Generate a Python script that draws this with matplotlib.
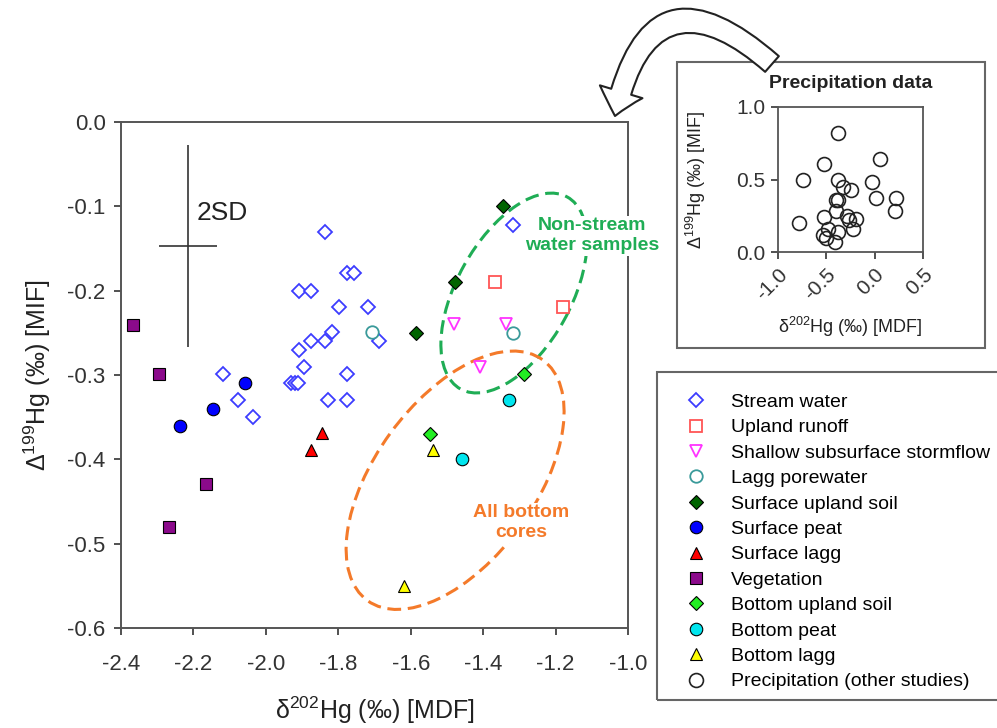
import matplotlib
matplotlib.use("Agg")
import matplotlib.pyplot as plt
from matplotlib.patches import Ellipse, Rectangle, FancyArrowPatch

plt.rcParams['font.family'] = ['Liberation Sans', 'DejaVu Sans']
plt.rcParams['mathtext.default'] = 'regular'

# ---- data ----
stream_x = [-1.318, -1.837, -1.776, -1.757, -1.909, -1.875, -1.798, -1.718, -1.817,
            -1.875, -1.837, -1.909, -1.688, -1.895, -2.118, -1.776, -1.93, -1.92,
            -1.91, -2.077, -2.036, -1.828, -1.776]
stream_y = [-0.122, -0.130, -0.179, -0.179, -0.200, -0.200, -0.219, -0.219, -0.249,
            -0.260, -0.260, -0.270, -0.260, -0.290, -0.299, -0.299, -0.31, -0.31,
            -0.31, -0.330, -0.350, -0.330, -0.330]
runoff_x = [-1.367, -1.18]
runoff_y = [-0.19, -0.219]
shallow_x = [-1.48, -1.337, -1.409]
shallow_y = [-0.24, -0.24, -0.29]
laggpw_x = [-1.318, -1.707]
laggpw_y = [-0.25, -0.249]
surf_soil_x = [-1.345, -1.478, -1.585]
surf_soil_y = [-0.10, -0.19, -0.25]
surf_peat_x = [-2.058, -2.146, -2.237]
surf_peat_y = [-0.31, -0.34, -0.36]
surf_lagg_x = [-1.845, -1.875]
surf_lagg_y = [-0.369, -0.389]
veg_x = [-2.367, -2.295, -2.165, -2.267]
veg_y = [-0.241, -0.299, -0.429, -0.480]
bot_soil_x = [-1.287, -1.547]
bot_soil_y = [-0.299, -0.370]
bot_peat_x = [-1.329, -1.458]
bot_peat_y = [-0.330, -0.400]
bot_lagg_x = [-1.538, -1.619]
bot_lagg_y = [-0.389, -0.55]

precip_x = [-0.38, -0.52, -0.74, -0.78, -0.38, -0.33, -0.24, -0.38, -0.40, -0.40,
            -0.52, -0.29, -0.27, -0.19, -0.22, -0.48, -0.38, -0.53, -0.50, -0.41,
            -0.03, 0.01, 0.06, 0.22, 0.21]
precip_y = [0.82, 0.61, 0.50, 0.20, 0.50, 0.45, 0.43, 0.36, 0.36, 0.28,
            0.24, 0.25, 0.22, 0.23, 0.16, 0.16, 0.14, 0.115, 0.10, 0.07,
            0.48, 0.37, 0.64, 0.37, 0.28]

sd_x, sd_y, sd_xerr, sd_yerr = -2.215, -0.147, 0.08, 0.12

W, H = 997, 728
fig = plt.figure(figsize=(W / 100, H / 100), dpi=100)

def fx(px):
    return px / W

def fy(py):
    return 1 - py / H

ax = fig.add_axes([fx(121), fy(628), 507 / W, 506 / H])

open_kw = dict(ls='none', mfc='white', mew=1.3)
fill_kw = dict(ls='none', mec='black', mew=0.8)
handles = []
handles += ax.plot(stream_x, stream_y, 'D', ms=7, mec='#3c3cff', label='Stream water', **open_kw)
handles += ax.plot(runoff_x, runoff_y, 's', ms=8, mec='#ff5555', label='Upland runoff', **open_kw)
handles += ax.plot(shallow_x, shallow_y, 'v', ms=9, mec='#ff33ff', label='Shallow subsurface stormflow', **open_kw)
handles += ax.plot(laggpw_x, laggpw_y, 'o', ms=9, mec='#3a9a9a', label='Lagg porewater', **open_kw)
handles += ax.plot(surf_soil_x, surf_soil_y, 'D', ms=7, mfc='#006400', label='Surface upland soil', **fill_kw)
handles += ax.plot(surf_peat_x, surf_peat_y, 'o', ms=9, mfc='#0000ff', label='Surface peat', **fill_kw)
handles += ax.plot(surf_lagg_x, surf_lagg_y, '^', ms=9, mfc='#ff0000', label='Surface lagg', **fill_kw)
handles += ax.plot(veg_x, veg_y, 's', ms=8, mfc='#8b0a8b', label='Vegetation', **fill_kw)
handles += ax.plot(bot_soil_x, bot_soil_y, 'D', ms=7, mfc='#22ee22', label='Bottom upland soil', **fill_kw)
handles += ax.plot(bot_peat_x, bot_peat_y, 'o', ms=9, mfc='#00e5ee', label='Bottom peat', **fill_kw)
handles += ax.plot(bot_lagg_x, bot_lagg_y, '^', ms=9, mfc='#ffff00', label='Bottom lagg', **fill_kw)

# 2SD cross
ax.errorbar(sd_x, sd_y, xerr=sd_xerr, yerr=sd_yerr, fmt='none', ecolor='#333333', elinewidth=1.2, capsize=0)
ax.text(sd_x + 0.025, -0.108, '2SD', fontsize=19, ha='left', va='center', color='#222222')

# dashed ellipses
ax.add_patch(Ellipse((0.775, 0.662), 0.434, 0.225, angle=61, transform=ax.transAxes,
                     fill=False, ec='#1fad55', lw=2.2, ls=(0, (4.5, 2.2)), clip_on=False, zorder=1))
ax.add_patch(Ellipse((0.659, 0.292), 0.588, 0.316, angle=54, transform=ax.transAxes,
                     fill=False, ec='#f47a2a', lw=2.2, ls=(0, (4.5, 2.2)), clip_on=False, zorder=1))
ax.text(0.929, 0.775, 'Non-stream\nwater samples', transform=ax.transAxes, ha='center', va='center',
        fontsize=14, fontweight='bold', color='#1fad55', linespacing=1.25, clip_on=False, zorder=5,
        bbox=dict(fc='white', ec='none', pad=1))
ax.text(0.789, 0.208, 'All bottom\ncores', transform=ax.transAxes, ha='center', va='center',
        fontsize=14, fontweight='bold', color='#f47a2a', linespacing=1.25, zorder=5,
        bbox=dict(fc='white', ec='none', pad=1))

ax.set_xlim(-2.4, -1.0)
ax.set_ylim(-0.6, 0.0)
ax.set_xticks([-2.4, -2.2, -2.0, -1.8, -1.6, -1.4, -1.2, -1.0])
ax.set_yticks([-0.6, -0.5, -0.4, -0.3, -0.2, -0.1, 0.0])
ax.set_xticklabels(['-2.4', '-2.2', '-2.0', '-1.8', '-1.6', '-1.4', '-1.2', '-1.0'])
ax.set_yticklabels(['-0.6', '-0.5', '-0.4', '-0.3', '-0.2', '-0.1', '0.0'])
ax.tick_params(direction='out', length=5, width=1.2, labelsize=16, colors='#333333', pad=6)
ax.tick_params(axis='x', pad=14)
for s in ax.spines.values():
    s.set_color('#555555')
    s.set_linewidth(1.4)
ax.set_xlabel('δ$^{202}$Hg (‰) [MDF]', fontsize=18, color='#222222', labelpad=14)
ax.set_ylabel('Δ$^{199}$Hg (‰) [MIF]', fontsize=18, color='#222222', labelpad=10)

# inset with precipitation data
fig.add_artist(Rectangle((fx(677), fy(348)), 308 / W, 286 / H, transform=fig.transFigure,
                         fill=False, ec='#666666', lw=1.5))
axi = fig.add_axes([fx(778), fy(252), 145 / W, 145 / H])
hp = axi.plot(precip_x, precip_y, 'o', ls='none', ms=10, mfc='none', mec='#222222', mew=1.2,
              label='Precipitation (other studies)')
handles += hp
axi.set_xlim(-1.0, 0.5)
axi.set_ylim(0.0, 1.0)
axi.set_xticks([-1.0, -0.5, 0.0, 0.5])
axi.set_xticklabels(['-1.0', '-0.5', '0.0', '0.5'], rotation=45, ha='right', rotation_mode='anchor')
axi.set_yticks([0.0, 0.5, 1.0])
axi.set_yticklabels(['0.0', '0.5', '1.0'])
axi.tick_params(direction='out', length=5, width=1.2, labelsize=15, colors='#333333', pad=4)
for s in axi.spines.values():
    s.set_color('#555555')
    s.set_linewidth(1.3)
axi.set_xlabel('δ$^{202}$Hg (‰) [MDF]', fontsize=13, color='#222222', labelpad=8)
axi.set_ylabel('Δ$^{199}$Hg (‰) [MIF]', fontsize=13, color='#222222', labelpad=20)
axi.set_title('Precipitation data', fontsize=14, fontweight='bold', color='#222222', pad=14)

# curved arrow pointing from the inset to the main plot
fig.add_artist(FancyArrowPatch((fx(772), fy(64)), (fx(615), fy(116)), transform=fig.transFigure,
                               connectionstyle='arc3,rad=0.85',
                               arrowstyle='simple,head_length=0.9,head_width=1.6,tail_width=0.75',
                               mutation_scale=20, fc='white', ec='#222222', lw=1.5,
                               shrinkA=0, shrinkB=0))

# legend
fig.add_artist(Rectangle((fx(657), fy(700)), 360 / W, 328 / H, transform=fig.transFigure,
                         fill=False, ec='#666666', lw=1.5, clip_on=False))
fig.legend(handles=handles, loc='upper left', bbox_to_anchor=(fx(657), fy(374)),
           frameon=False, fontsize=14, labelspacing=0.4, borderpad=1.0, borderaxespad=0,
           handlelength=2.0, handletextpad=0.8, numpoints=1)

fig.savefig('out.png', dpi=100)
